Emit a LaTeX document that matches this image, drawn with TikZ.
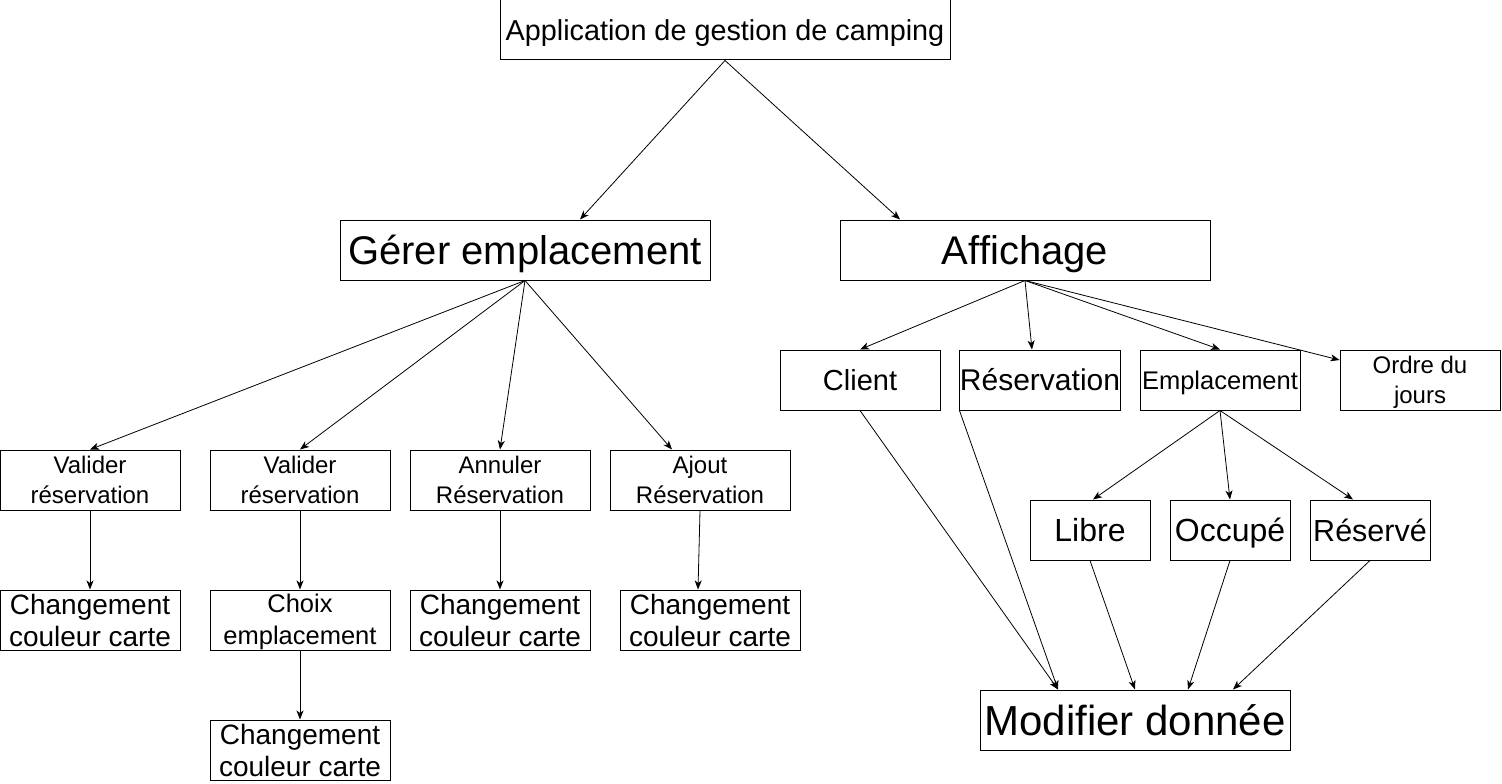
\documentclass[tikz,border=0pt]{standalone}
\usepackage{fontspec}
\setmainfont{Liberation Sans}
\usetikzlibrary{arrows.meta}
\newcommand\fsz[2]{\fontsize{#1}{#2}\selectfont}
\begin{document}
\begin{tikzpicture}[x=1pt,y=-1pt,
  bx/.style={draw, line width=1pt, inner sep=0pt, minimum height=60pt, align=center},
  one/.style={text height={0.93*#1}, text depth={0.2*#1}},
  arr/.style={-{Stealth[length=9pt,width=7pt,inset=2.5pt]}, line width=0.8pt}]
\useasboundingbox (0,0) rectangle (1502,784);
% top
\node[bx, one=28.8, minimum width=450pt, font=\fsz{28.8}{34}] (top) at (725,30) {Application de gestion de camping};
\node[bx, one=40, minimum width=370pt, font=\fsz{40}{46}] (g) at (525,250) {Gérer emplacement};
\node[bx, one=40, minimum width=370pt, font=\fsz{40}{46}] (a) at (1025,250) {Affichage};
% left branch
\node[bx, minimum width=180pt, font=\fsz{24}{30}] (v1) at (90,480) {Valider\\réservation};
\node[bx, minimum width=180pt, font=\fsz{24}{30}] (v2) at (300,480) {Valider\\réservation};
\node[bx, minimum width=180pt, font=\fsz{24}{30}] (an) at (500,480) {Annuler\\Réservation};
\node[bx, minimum width=180pt, font=\fsz{24}{30}] (aj) at (700,480) {Ajout\\Réservation};
\node[bx, minimum width=180pt, font=\fsz{28}{32}] (c1) at (90,620) {Changement\\couleur carte};
\node[bx, minimum width=180pt, font=\fsz{25.5}{32}] (ch) at (300,620) {\strut Choix\\emplacement};
\node[bx, minimum width=180pt, font=\fsz{28}{32}] (c3) at (500,620) {Changement\\couleur carte};
\node[bx, minimum width=180pt, font=\fsz{28}{32}] (c4) at (710,620) {Changement\\couleur carte};
\node[bx, minimum width=180pt, font=\fsz{28}{32}] (c5) at (300,750) {Changement\\couleur carte};
% right branch
\node[bx, one=29, minimum width=160pt, font=\fsz{29}{34}] (cl) at (860,380) {Client};
\node[bx, one=30, minimum width=160pt, font=\fsz{30}{34}] (re) at (1040,380) {Réservation};
\node[bx, one=27, minimum width=160pt, font=\fsz{25.5}{34}] (e) at (1220,380) {Emplacement};
\node[bx, minimum width=160pt, font=\fsz{24}{30}] (o) at (1420,380) {\strut Ordre du\\jours};
\node[bx, one=32, minimum width=120pt, font=\fsz{32}{36}] (li) at (1090,530) {Libre};
\node[bx, one=32, minimum width=120pt, font=\fsz{32}{36}] (oc) at (1230,530) {Occupé};
\node[bx, one=30.5, minimum width=120pt, font=\fsz{30.5}{36}] (rs) at (1370,530) {Réservé};
\node[bx, one=42, minimum width=310pt, font=\fsz{42}{48}] (m) at (1135,720) {Modifier donnée};
% connectors
\draw[arr] (top.south) -- ([xshift=55pt]g.north);
\draw[arr] (top.south) -- ([xshift=-125pt]a.north);
\draw[arr] (g.south) -- (v1.north);
\draw[arr] (g.south) -- (v2.north);
\draw[arr] (g.south) -- (an.north);
\draw[arr] (g.south) -- ([xshift=-28pt]aj.north);
\draw[arr] (v1.south) -- (c1.north);
\draw[arr] (v2.south) -- (ch.north);
\draw[arr] (ch.south) -- (c5.north);
\draw[arr] (an.south) -- (c3.north);
\draw[arr] (aj.south) -- ([xshift=-12pt]c4.north);
\draw[arr] (a.south) -- (cl.north);
\draw[arr] (a.south) -- ([xshift=-8pt]re.north);
\draw[arr] (a.south) -- (e.north);
\draw[arr] (a.south) -- ([yshift=20pt]o.west);
\draw[arr] (e.south) -- ([xshift=3pt]li.north);
\draw[arr] (e.south) -- (oc.north);
\draw[arr] (e.south) -- ([xshift=-17pt]rs.north);
\draw[arr] (cl.south) -- ([xshift=-77pt]m.north);
\draw[arr] (re.south west) -- ([xshift=-77pt]m.north);
\draw[arr] (li.south) -- (m.north);
\draw[arr] (oc.south) -- ([xshift=53pt]m.north);
\draw[arr] (rs.south) -- ([xshift=98pt]m.north);
\end{tikzpicture}
\end{document}
